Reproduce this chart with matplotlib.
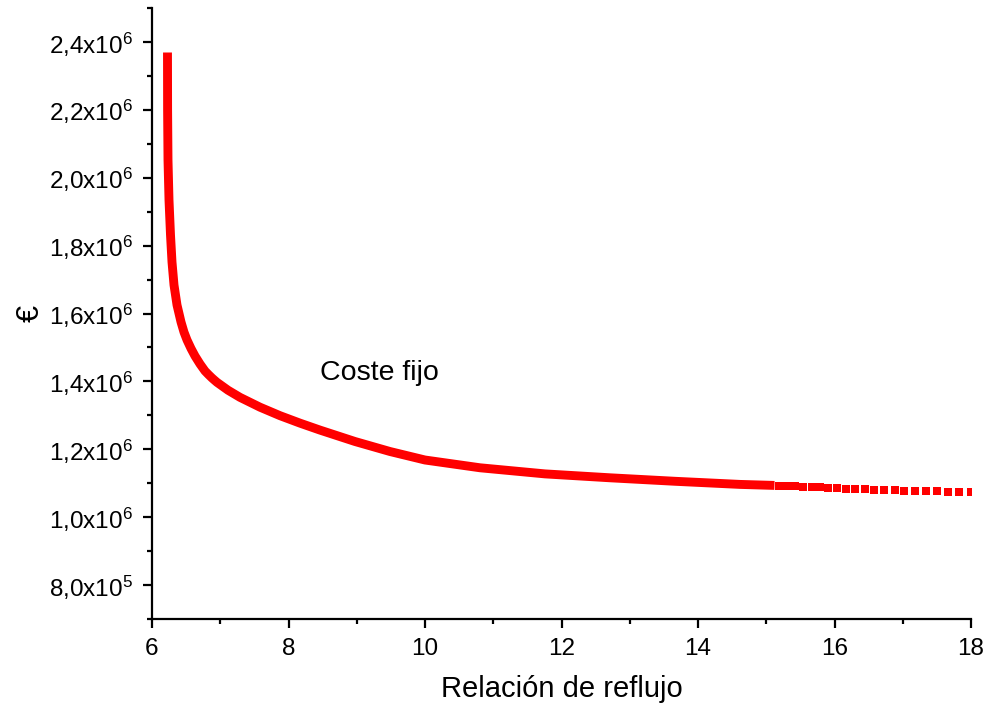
import matplotlib
matplotlib.use("Agg")
import matplotlib.pyplot as plt

plt.rcParams["font.family"] = ["Liberation Sans", "DejaVu Sans"]
plt.rcParams["mathtext.fontset"] = "custom"
plt.rcParams["mathtext.rm"] = "Liberation Sans"
plt.rcParams["mathtext.it"] = "Liberation Sans"

# relación de reflujo frente a coste fijo (€), tramo continuo
reflujo = [6.2271, 6.2286, 6.2344, 6.2491, 6.2711, 6.2930, 6.3223, 6.3663, 6.4249, 6.4689,
           6.5128, 6.5714, 6.6300, 6.7033, 6.7766, 6.8278, 6.8791, 6.9158, 6.9524, 7.1136,
           7.2894, 7.5824, 7.8755, 8.1685, 8.4615, 8.9744, 9.4872, 10.0, 10.8059, 11.7582,
           12.7106, 13.6630, 14.6154, 15.055]
coste = [2.3558e6, 2.1996e6, 2.0523e6, 1.9345e6, 1.8313e6, 1.7518e6, 1.6840e6, 1.6251e6,
         1.5750e6, 1.5450e6, 1.5220e6, 1.4969e6, 1.4748e6, 1.4513e6, 1.4306e6, 1.4200e6,
         1.4100e6, 1.4035e6, 1.3972e6, 1.3740e6, 1.3530e6, 1.3240e6, 1.2990e6, 1.2770e6,
         1.2565e6, 1.2229e6, 1.1934e6, 1.1684e6, 1.1455e6, 1.1275e6, 1.1160e6, 1.1057e6,
         1.0965e6, 1.0939e6]

# puntos finales, ya separados
reflujo_cola = [15.055, 15.18, 15.30, 15.42, 15.54, 15.67, 15.79, 15.91, 16.03, 16.17,
                16.30, 16.45, 16.58, 16.73, 16.88, 17.02, 17.18, 17.34, 17.50, 17.66,
                17.82, 18.0]
coste_cola = [1.0939e6, 1.0927e6, 1.0918e6, 1.0906e6, 1.0894e6, 1.0886e6, 1.0874e6, 1.0865e6,
              1.0853e6, 1.0841e6, 1.0830e6, 1.0821e6, 1.0812e6, 1.0803e6, 1.0794e6, 1.0785e6,
              1.0777e6, 1.0768e6, 1.0759e6, 1.0750e6, 1.0741e6, 1.0732e6]

xticks = [6, 8, 10, 12, 14, 16, 18]
xticks_menores = [7, 9, 11, 13, 15, 17]
yticks = [8e5, 1.0e6, 1.2e6, 1.4e6, 1.6e6, 1.8e6, 2.0e6, 2.2e6, 2.4e6]
ytick_labels = [r"8,0x10$^{5}$", r"1,0x10$^{6}$", r"1,2x10$^{6}$", r"1,4x10$^{6}$",
                r"1,6x10$^{6}$", r"1,8x10$^{6}$", r"2,0x10$^{6}$", r"2,2x10$^{6}$",
                r"2,4x10$^{6}$"]
yticks_menores = [7e5, 9e5, 1.1e6, 1.3e6, 1.5e6, 1.7e6, 1.9e6, 2.1e6, 2.3e6, 2.5e6]

rojo = "#ff0000"

fig = plt.figure(figsize=(9.89, 7.11), dpi=100)
ax = fig.add_axes([152 / 989, 92 / 711, 819 / 989, 611 / 711])

ax.plot(reflujo, coste, color=rojo, lw=6.4, solid_capstyle="projecting",
        solid_joinstyle="round")
ax.plot(reflujo_cola, coste_cola, ls="none", marker="s", ms=6.4,
        color=rojo, mec=rojo, mew=0)

ax.set_xlim(6, 18)
ax.set_ylim(7e5, 2.5e6)
ax.set_xticks(xticks)
ax.set_xticks(xticks_menores, minor=True)
ax.set_yticks(yticks)
ax.set_yticklabels(ytick_labels)
ax.set_yticks(yticks_menores, minor=True)

for lado in ("top", "right"):
    ax.spines[lado].set_visible(False)
for lado in ("left", "bottom"):
    ax.spines[lado].set_linewidth(1.6)

ax.tick_params(which="major", direction="out", length=6.8, width=1.6,
               labelsize=17.5, pad=7)
ax.tick_params(which="minor", direction="out", length=3.8, width=1.6)

ax.set_xlabel("Relación de reflujo", fontsize=21, labelpad=11)
ax.set_ylabel("€", fontsize=22, labelpad=2)

ax.text(8.46, 1.425e6, "Coste fijo", fontsize=20.5, ha="left", va="center")

fig.savefig("out.png", dpi=100)
